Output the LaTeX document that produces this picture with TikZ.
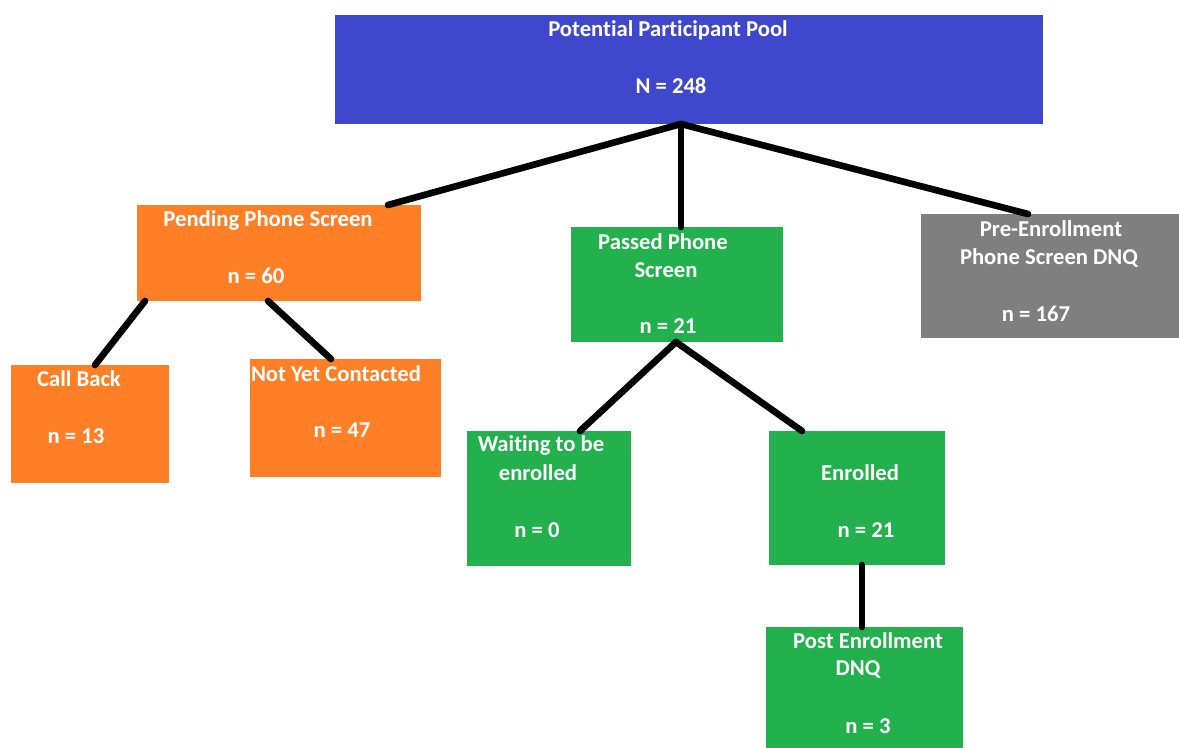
\documentclass[tikz,border=0pt]{standalone}
\usepackage{fontspec}
\setmainfont{Carlito}[Ligatures=NoCommon]
\usetikzlibrary{calc}
\definecolor{pblue}{HTML}{3F48CC}
\definecolor{porange}{HTML}{FF7F27}
\definecolor{pgreen}{HTML}{22B14C}
\definecolor{pgrey}{HTML}{7F7F7F}
\tikzset{
  box/.style={draw=none, inner sep=0pt, outer sep=0pt, anchor=north west},
  lbl/.style={text=white, font=\bfseries\fontsize{17}{20}\selectfont, inner sep=0pt, anchor=center},
  link/.style={line width=5pt, black, line cap=round}
}
\begin{document}
\begin{tikzpicture}[x=0.75pt,y=-0.75pt]
\useasboundingbox (0,0) rectangle (1179,747);
\fill[white] (0,0) rectangle (1179,747);
% boxes
\node[box, fill=pblue, minimum width=708*0.75pt, minimum height=109*0.75pt] (top) at (335,15) {};
\node[box, fill=porange, minimum width=284*0.75pt, minimum height=96*0.75pt] (pend) at (137,205) {};
\node[box, fill=pgreen, minimum width=212*0.75pt, minimum height=115*0.75pt] (pass) at (571,227) {};
\node[box, fill=pgrey, minimum width=258*0.75pt, minimum height=124*0.75pt] (pre) at (921,214) {};
\node[box, fill=porange, minimum width=158*0.75pt, minimum height=118*0.75pt] (call) at (11,365) {};
\node[box, fill=porange, minimum width=191*0.75pt, minimum height=118*0.75pt] (nyc) at (250,359) {};
\node[box, fill=pgreen, minimum width=164*0.75pt, minimum height=135*0.75pt] (wait) at (467,431) {};
\node[box, fill=pgreen, minimum width=176*0.75pt, minimum height=134*0.75pt] (enr) at (769,431) {};
\node[box, fill=pgreen, minimum width=197*0.75pt, minimum height=125*0.75pt] (post) at (766,627) {};
% connectors
\draw[link] ($(top.south)+(-8,0)$) -- ($(pend.north east)+(-33,0)$);
\draw[link] ($(top.south)+(-8,0)$) -- ($(pass.north)+(4,0)$);
\draw[link] ($(top.south)+(-8,0)$) -- ($(pre.north west)+(107,0)$);
\draw[link] ($(pend.south west)+(8,0)$) -- ($(call.north west)+(84,0)$);
\draw[link] ($(pend.south west)+(131,0)$) -- ($(nyc.north west)+(81,0)$);
\draw[link] ($(pass.south)+(-1,0)$) -- ($(wait.north west)+(113,0)$);
\draw[link] ($(pass.south)+(-1,0)$) -- ($(enr.north west)+(33,0)$);
\draw[link] ($(enr.south west)+(93,0)$) -- ($(post.north west)+(96,0)$);
% labels
\node[lbl] (t1) at (668,30) {Potential Participant Pool};
\node[lbl] (t2) at (671,86) {N = 248};
\node[lbl] (p1) at (268,220) {Pending Phone Screen};
\node[lbl] (p2) at (256,276) {n = 60};
\node[lbl] (c1) at (79,379) {Call Back};
\node[lbl] (c2) at (76,436) {n = 13};
\node[lbl] (y1) at (336,374) {Not Yet Contacted};
\node[lbl] (y2) at (342,430) {n = 47};
\node[lbl] (s1) at (663,242) {Passed Phone};
\node[lbl] (s2) at (666,270) {Screen};
\node[lbl] (s3) at (668,326) {n = 21};
\node[lbl] (r1) at (1051,229) {Pre-Enrollment};
\node[lbl] (r2) at (1049,258) {Phone Screen DNQ};
\node[lbl] (r3) at (1036,314) {n = 167};
\node[lbl] (w1) at (541,445) {Waiting to be};
\node[lbl] (w2) at (538,473) {enrolled};
\node[lbl] (w3) at (537,530) {n = 0};
\node[lbl] (e1) at (860,473) {Enrolled};
\node[lbl] (e2) at (866,530) {n = 21};
\node[lbl] (d1) at (868,641) {Post Enrollment};
\node[lbl] (d2) at (858,669) {DNQ};
\node[lbl] (d3) at (868,726) {n = 3};
\end{tikzpicture}
\end{document}
